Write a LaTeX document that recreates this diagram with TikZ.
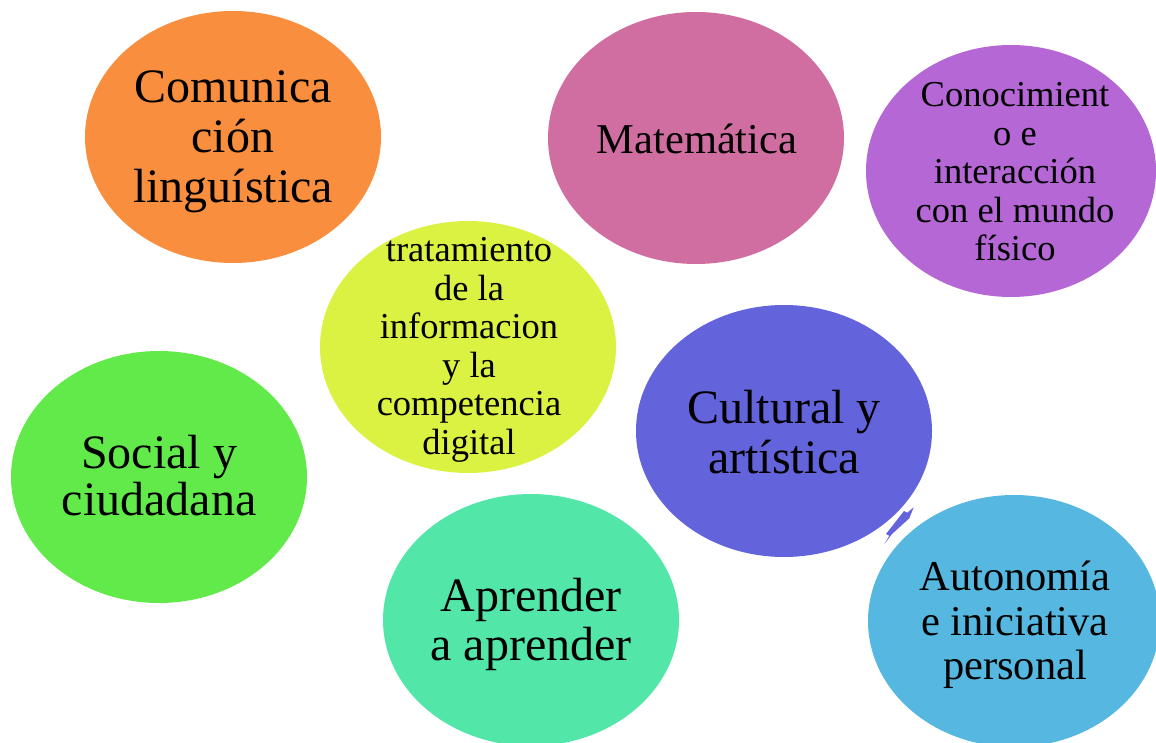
\documentclass[tikz,border=0pt]{standalone}
\usepackage{fontspec}
\setmainfont{Liberation Serif}
\usetikzlibrary{shapes.geometric}
\definecolor{cOrange}{HTML}{F98E3E}
\definecolor{cPink}{HTML}{D06EA2}
\definecolor{cPurple}{HTML}{B467D5}
\definecolor{cYellow}{HTML}{DBF243}
\definecolor{cGreen}{HTML}{61EA4A}
\definecolor{cBlue}{HTML}{6363DB}
\definecolor{cTeal}{HTML}{53E6A9}
\definecolor{cLight}{HTML}{56B8E0}
\tikzset{
  bubble/.style={ellipse, draw=none, inner sep=0pt, minimum width=296pt, minimum height=252pt},
  lbl/.style={align=center, inner sep=0pt, text=black},
  big/.style={lbl, font=\fontsize{48}{50}\selectfont},
  mid/.style={lbl, font=\fontsize{42.5}{44.5}\selectfont},
  small/.style={lbl, font=\fontsize{36.5}{38.5}\selectfont},
}
\begin{document}
\begin{tikzpicture}[x=1pt, y=-1pt]
\useasboundingbox (0,0) rectangle (1156,743);
\node[bubble, fill=cOrange] (com) at (233,137) {};
\node[big] (comT) at (233,142) {Comunica\\ción\\linguística};
\node[bubble, fill=cPink] (mat) at (696,138) {};
\node[mid] (matT) at (697,139) {Matemática};
\node[bubble, fill=cPurple, minimum width=290pt] (con) at (1011,171) {};
\node[small] (conT) at (1015,172) {Conocimient\\o e\\interacción\\con el mundo\\físico};
\node[bubble, fill=cYellow] (tra) at (468,347) {};
\node[small] (traT) at (469,350) {tratamiento\\de la\\informacion\\y la\\competencia\\digital};
\node[bubble, fill=cGreen] (soc) at (159,477) {};
\node[big, font=\fontsize{48}{47}\selectfont] (socT) at (159,476) {Social y\\ciudadana};
\node[bubble, fill=cBlue] (cul) at (784,431) {};
\node[big] (culT) at (784,432) {Cultural y\\artística};
\node[bubble, fill=cTeal] (apr) at (531,620) {};
\node[big, font=\fontsize{48}{49}\selectfont] (aprT) at (531,624) {Aprender\\a aprender};
\node[bubble, fill=cLight, minimum width=292pt] (aut) at (1014,621) {};
\node[mid] (autT) at (1015,625) {Autonomía\\e iniciativa\\personal};
\fill[cBlue] (913.7,507.3) -- (909.3,518.3) -- (891.7,534.3) -- (884.3,544.3) -- (889.3,535.7) -- (886,534) -- (904,511) -- (907.3,512.7) -- cycle;
\end{tikzpicture}
\end{document}
